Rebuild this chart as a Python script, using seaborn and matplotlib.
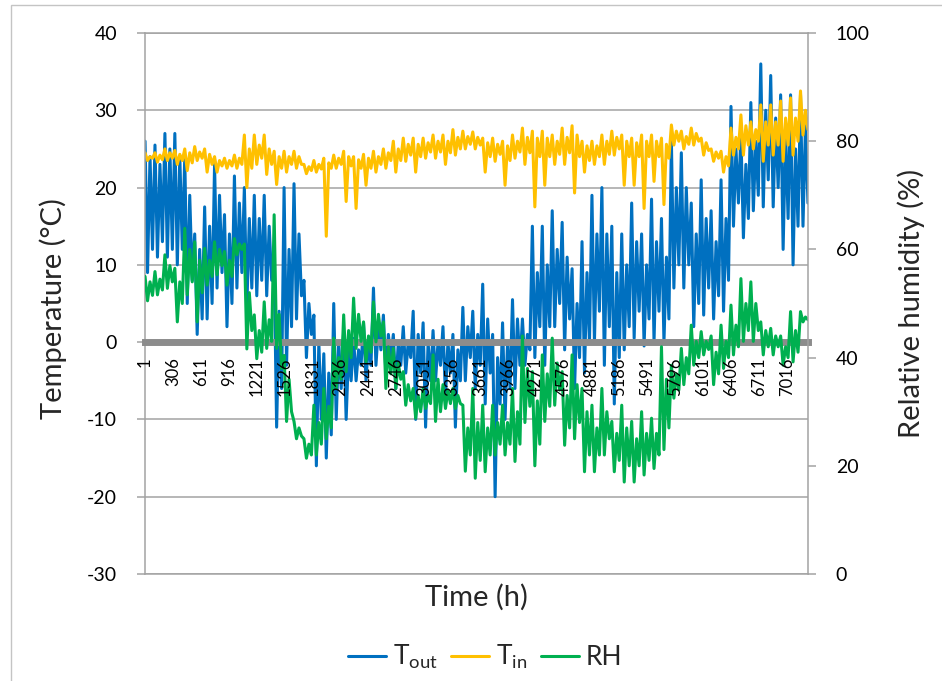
import numpy as np
import pandas as pd
import matplotlib
matplotlib.use("Agg")
import matplotlib.pyplot as plt
import seaborn as sns
from matplotlib.patches import Rectangle
from matplotlib.lines import Line2D

# ---------------- data ----------------
N_HOURS = 7244
tick_values = list(range(1, 7017, 305))          # 1, 306, ..., 7016
tick_labels = [str(v) for v in tick_values]

# per ~109 h column: main peak / trough and a secondary peak / trough of each series
tout_hi = [26, 25.5, 27, 27, 24, 14, 17.5, 23, 16.5, 21.5, 20, 19, 19, 10, 20, 20.5, 8,
           3.5, -1.5, 5, 1.5, 0.5, 2.5, 7, 3.5, 1, 2, 4, 2.5, 1.5, 2, 1, 4.5,
           4, 7.5, 1, 2.5, 5.5, 3, 15, 15, 17, 15.5, 9.5, 13, 19, 20, 15, 14, 18,
           14, 18.5, 16, 26, 24.5, 18, 21, 17, 21, 30.5, 27, 31, 36, 34.5, 32, 32, 32]
tout_lo = [9, 11, 11, 10, 5, 1, 3, 7, 2, 7, 4.5, 6, 6, -11, -3, 3, -2,
           -16, -15, -10, -10, -5, -5, -3, -4, -6, -4, -10, -11, -5, -7, -11, -5,
           -6, -8, -20, -10, -6, -3, -2, -3, 2, -1, -6, -4, 0, -3, -8, -1, 0.5,
           -0.5, 0, 0, 7, 7, 2, 3.5, 3, 4, 15, 13.5, 17, 17.5, 17.5, 12, 10, 15]
tout_hi2 = [24, 23, 25, 24, 19, 12, 15, 19, 14, 18, 16, 16, 15, 4, 12, 14, 5,
            0, -4, 0, -1, -1, 0, 2, 1, 0, 0, 1, 0, 0, 0, -1, 2,
            1, 3, -2, 0, 3, 1, 9, 10, 12, 11, 5, 9, 14, 14, 9, 10, 13,
            10, 13, 11, 20, 20, 14, 16, 13, 16, 25, 23, 26, 30, 29, 27, 25, 28]
tout_lo2 = [12, 13, 12, 12, 8, 3, 5, 9, 5, 9, 7, 8, 8, -6, 2, 6, 1,
            -10, -12, -6, -5, -3, -3, -1, -2, -3, -2, -4, -5, -3, -4, -5, -2,
            -3, -4, -8, -6, -3, -1, 2, 2, 5, 3, -2, 0, 4, 2, -2, 2, 4,
            3, 4, 3, 10, 10, 5, 7, 6, 8, 18, 16, 19, 21, 20, 16, 15, 18]

tin_hi = [24.5, 24.5, 25, 24.8, 25, 25.3, 25, 24, 23.8, 24.2, 26.8, 26.8, 26.8, 24.7, 24.7, 24.7, 23,
          23.5, 23.8, 24.2, 24.7, 24, 24.3, 24.7, 25, 26, 26.4, 26.4, 26.4, 26.8, 26.8, 27.5, 27.3,
          27.2, 26.4, 26.4, 26, 26.8, 27.7, 27.3, 27.3, 26.8, 27.7, 28, 26, 26, 26.8, 27.3, 26.8, 26.4,
          26.8, 26.8, 26.4, 28.1, 27.3, 27.7, 26.4, 25, 24.7, 27.7, 29.4, 28.5, 30.7, 30.7, 31.2, 31.6, 32.5]
tin_lo = [23.5, 23.3, 23.5, 23, 22.2, 23.5, 22, 22, 22.5, 22.5, 20, 23, 21.7, 20.4, 22, 22.5, 21.8,
          22, 13.7, 22.5, 18.2, 17.3, 20.3, 22, 22.5, 22, 23.4, 22, 23.8, 23.8, 23, 24.2, 25,
          25, 22, 23.4, 20.3, 23.8, 23, 17.5, 20.3, 23, 23, 19.3, 22, 23, 23, 24.2, 20.3, 20.3,
          17.3, 20.8, 17.8, 25.5, 25, 25.5, 24.2, 23.4, 22, 24.2, 24.2, 25, 23.4, 24.2, 23.4, 24.2, 26.8]
tin_hi2 = [24, 24.2, 24.5, 24.3, 24.5, 24.6, 24.3, 23.5, 23.5, 23.8, 25, 25.5, 25, 24, 24, 24, 22.7,
           23, 23.2, 23.8, 24, 23.6, 23.8, 24, 24.5, 25, 25.6, 25.6, 25.8, 26, 26, 26.5, 26.6,
           26.5, 25.8, 25.6, 25.4, 26, 26.5, 26.4, 26.4, 26, 26.5, 26.8, 25.4, 25.4, 26, 26.5, 26, 25.8,
           26, 26, 25.6, 27.3, 26.6, 27, 25.8, 24.6, 24, 26.5, 28, 27.5, 28.5, 28.5, 29, 29, 30]
tin_lo2 = [23.8, 23.6, 23.8, 23.5, 23.2, 23.8, 23, 22.8, 22.8, 23, 22.5, 23.8, 23, 22.5, 23, 23, 22.2,
           22.4, 22.5, 23, 22.8, 22.5, 22.5, 23, 23.5, 23.5, 24.2, 24, 24.6, 24.6, 24.5, 25, 25.6,
           25.5, 24, 24.3, 23.5, 24.6, 24.5, 24, 24, 24.3, 24.5, 24, 23.5, 24, 24.3, 25, 24, 24,
           24, 24, 23.8, 26, 25.6, 26, 24.8, 23.8, 22.8, 25, 25.5, 26, 25.5, 25.5, 25.5, 26, 27.5]

rh_hi = [55, 55.9, 59, 56.5, 63.9, 61.4, 60.2, 61.4, 59.6, 62, 61, 47.9, 50.3, 66.4, 40.4, 28.2, 25,
         31.2, 34.3, 43.6, 47.9, 51, 46.6, 50.3, 46.6, 41.7, 37.4, 34.3, 34.3, 40.5, 35, 34.3, 31.2,
         34.3, 31.2, 31.2, 31.2, 34.3, 44, 37.4, 40.5, 43.6, 37.4, 40.5, 34.3, 31.2, 34.3, 28.2, 31.2, 28.2,
         30, 28.8, 42, 38.6, 41.7, 46, 44.8, 44, 46, 49.7, 54.6, 54, 46.6, 45.4, 44, 48.5, 48.5]
rh_lo = [50.5, 51.6, 52.8, 46.6, 51.6, 46.6, 53.4, 55.3, 53.4, 59, 41.6, 39.8, 41.7, 41.7, 28.2, 25, 21.4,
         22, 25, 34.3, 37.4, 41.7, 39.2, 42.9, 34.3, 34.3, 31.2, 28.8, 30.6, 28.2, 30.6, 30.6, 19,
         17.7, 18.9, 22, 22, 20.8, 28, 20, 28.2, 31.2, 23.8, 25, 18.9, 18.9, 22, 18.9, 17, 17,
         18.3, 19.5, 23, 32.5, 35, 38.6, 40.5, 35, 38, 40.5, 43, 43, 40.5, 40.5, 38.6, 39.2, 46.6]
rh_hi2 = [54, 54.5, 57, 54, 60, 58, 58, 60, 58, 61, 52, 45, 47, 48, 36, 27, 24,
          28, 31, 40, 45, 48, 44, 48, 42, 39, 35, 33, 33, 36, 34, 33, 27,
          28, 27, 28, 28, 30, 38, 32, 37, 39, 33, 35, 30, 27, 30, 26, 27, 25,
          26, 26, 36, 37, 40, 43, 43, 41, 43, 46, 50, 50, 45, 44, 42, 45, 47.5]
rh_lo2 = [51.5, 52.5, 54, 50, 54, 52, 55, 57, 55, 60, 45, 41, 43, 38, 30, 25.5, 22,
          24, 27, 36, 40, 43, 41, 44, 37, 36, 32, 30, 31.5, 30, 31.5, 31.5, 22,
          21, 22, 24, 24, 24, 31, 24, 31, 34, 27, 28, 22, 22, 25, 21, 20, 20,
          21, 22, 27, 34, 37, 40, 41.5, 37, 40, 42, 45, 45, 42, 42, 40, 41, 47]


def weave(*cols):
    return np.column_stack(cols).ravel()


n_samples = 4 * len(tout_hi)
hours = np.linspace(1, N_HOURS, n_samples)
df = pd.DataFrame({
    "hour": hours,
    "T_out": weave(tout_hi, tout_lo, tout_hi2, tout_lo2),
    "T_in": weave(tin_hi, tin_lo, tin_hi2, tin_lo2),
    "RH": weave(rh_hi, rh_lo, rh_hi2, rh_lo2),
})

# ---------------- style ----------------
sns.set_theme(style="white")
plt.rcParams["font.family"] = ["Lato", "DejaVu Sans"]
plt.rcParams["mathtext.default"] = "regular"
plt.rcParams["axes.unicode_minus"] = False

C_OUT, C_IN, C_RH = "#0070C0", "#FFC000", "#00B050"
GRID = "#a3a3a3"
TITLE_FS = 21

W, H = 942, 681
fig = plt.figure(figsize=(W / 100, H / 100), dpi=100)
ax = fig.add_axes([145 / W, 1 - 574 / H, (808 - 145) / W, (574 - 33) / H])

sns.lineplot(data=df, x="hour", y="T_out", ax=ax, color=C_OUT, lw=2.2,
             estimator=None, sort=False)
sns.lineplot(data=df, x="hour", y="T_in", ax=ax, color=C_IN, lw=2.2,
             estimator=None, sort=False)

ax.set_xlim(0.5, N_HOURS + 0.5)
ax.set_ylim(-30, 40)
ax.set_yticks(range(-30, 41, 10))
ax.set_axisbelow(True)
ax.yaxis.grid(True, color=GRID, lw=1.1)
ax.xaxis.grid(False)

for s in ("top", "right"):
    ax.spines[s].set_visible(False)
ax.spines["left"].set_color(GRID)
ax.spines["left"].set_linewidth(1.1)
ax.spines["bottom"].set_color(GRID)
ax.spines["bottom"].set_linewidth(1.1)

ax.set_xticks(tick_values)
ax.set_xticklabels(tick_labels)
ax.tick_params(axis="x", length=0, labelbottom=False)
ax.tick_params(axis="y", direction="out", length=6, width=1.1, color=GRID,
               labelsize=14, pad=14, labelcolor="black")

ax.set_xlabel("Time (h)", fontsize=TITLE_FS)
ax.xaxis.set_label_coords(0.5, -0.019)
ax.set_ylabel("Temperature (°C)", fontsize=TITLE_FS)
ax.yaxis.set_label_coords(-0.118, 0.49)

# secondary axis (RH); its bottom spine is the thick zero line of the temperature axis
ax2 = ax.twinx()
sns.lineplot(data=df, x="hour", y="RH", ax=ax2, color=C_RH, lw=2.2,
             estimator=None, sort=False)
ax2.set_ylim(0, 100)
ax2.set_yticks(range(0, 101, 20))
ax2.grid(False)
ax2.set_axisbelow(False)            # category labels drawn above the data lines
ax2.xaxis.set_visible(True)
ax2.spines["bottom"].set_position(("axes", 30 / 70))
ax2.spines["bottom"].set_color("#8c8c8c")
ax2.spines["bottom"].set_linewidth(5)
ax2.spines["bottom"].set_zorder(1.5)
for s in ("top", "right"):
    ax2.spines[s].set_color(GRID)
    ax2.spines[s].set_linewidth(1.1)
ax2.spines["left"].set_visible(False)
ax2.tick_params(axis="x", bottom=True, labelbottom=True, length=0, pad=11,
                labelsize=12, labelrotation=90, labelcolor="black")
ax2.tick_params(axis="y", direction="out", length=6, width=1.1, color=GRID,
                labelsize=14, pad=14, labelcolor="black")
ax2.set_xlabel("")
ax2.set_ylabel("Relative humidity (%)", fontsize=TITLE_FS, rotation=90)
ax2.yaxis.set_label_coords(1.135, 0.5)

handles = [Line2D([], [], color=C_OUT, lw=2.2),
           Line2D([], [], color=C_IN, lw=2.2),
           Line2D([], [], color=C_RH, lw=2.2)]
fig.legend(handles, ["T$_{out}$", "T$_{in}$", "RH"], loc="center",
           bbox_to_anchor=(485 / W, 1 - 657 / H), ncol=3, frameon=False,
           fontsize=19, handlelength=1.45, handletextpad=0.25, columnspacing=0.5)

fig.add_artist(Rectangle((11 / W, -0.1), 1.2, (1 - 5 / H) + 0.1,
                         transform=fig.transFigure, fill=False,
                         ec="#c4c4c4", lw=1))

fig.savefig("out.png", dpi=100)
